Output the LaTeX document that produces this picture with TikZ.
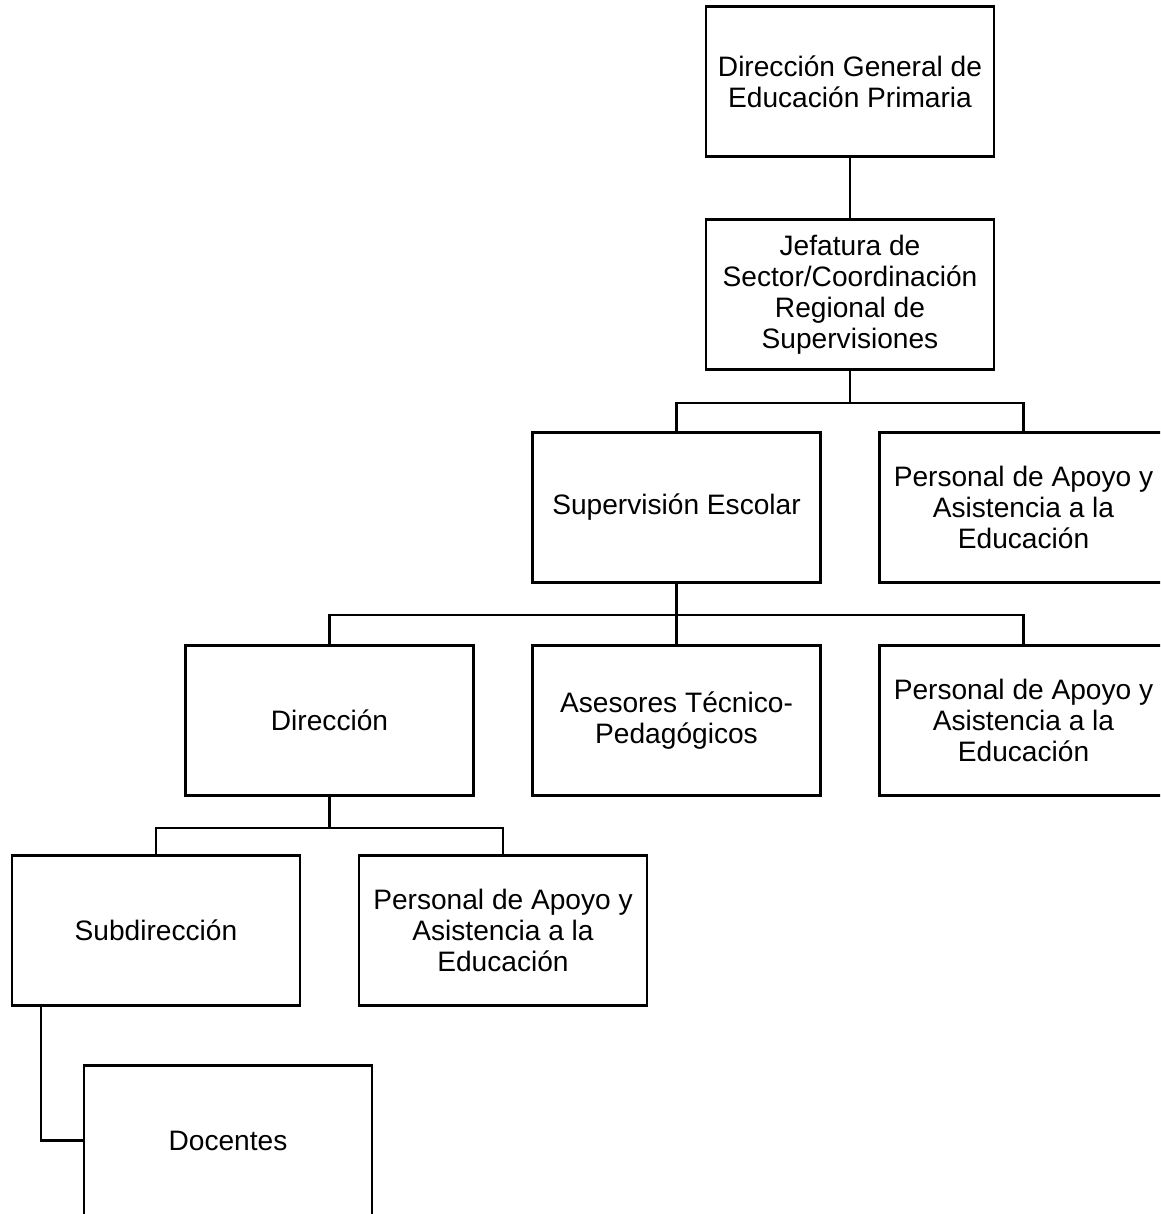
\documentclass[tikz,border=0pt]{standalone}
\usepackage{fontspec}
\setmainfont{Liberation Sans}
\usepackage{tikz}
\usetikzlibrary{positioning}

\begin{document}
\begin{tikzpicture}[line width=1.2pt, node distance=4.26cm and 6.94cm, on grid,
        org box/.style={rectangle, draw, fill=white, minimum width=5.76cm, minimum height=3cm,
          inner sep=0pt, align=center, font=\fontsize{16pt}{17.6pt}\selectfont}]
        \useasboundingbox (0,0) rectangle (23.2,-24.28);
        \clip (0,0) rectangle (23.2,-24.28);
        \node[org box] (gen) at (17,-1.63) {Dirección General de\\Educación Primaria};
        \node[org box] (jef) [below=of gen] {Jefatura de\\Sector/Coordinación\\Regional de\\Supervisiones};
        \node[org box] (sup) [below left=4.26cm and 3.47cm of jef] {Supervisión Escolar};
        \node[org box] (apoyoA) [right=of sup] {Personal de Apoyo y\\Asistencia a la\\Educación};
        \node[org box] (dir) [below left=4.26cm and 6.94cm of sup] {Dirección};
        \node[org box] (ase) [right=of dir] {Asesores Técnico-\\Pedagógicos};
        \node[org box] (apoyoB) [right=of ase] {Personal de Apoyo y\\Asistencia a la\\Educación};
        \node[org box] (sub) [below left=4.2cm and 3.47cm of dir] {Subdirección};
        \node[org box] (apoyoC) [right=of sub] {Personal de Apoyo y\\Asistencia a la\\Educación};
        \node[org box] (doc) [below right=4.2cm and 1.44cm of sub] {Docentes};
        % buses
        \draw (gen) -- (jef);
        \draw (jef.south) -- ++(0,-0.64) coordinate (busA);
        \draw (busA) -| (sup.north);
        \draw (busA) -| (apoyoA.north);
        \draw (sup.south) -- ++(0,-0.62) coordinate (busB);
        \draw (busB) -| (dir.north);
        \draw (busB) -- (ase.north);
        \draw (busB) -| (apoyoB.north);
        \draw (dir.south) -- ++(0,-0.62) coordinate (busC);
        \draw (busC) -| (sub.north);
        \draw (busC) -| (apoyoC.north);
        \coordinate (subfoot) at ([xshift=0.6cm]sub.south west);
        \draw (subfoot) |- (doc.west);
    \end{tikzpicture}
\end{document}
